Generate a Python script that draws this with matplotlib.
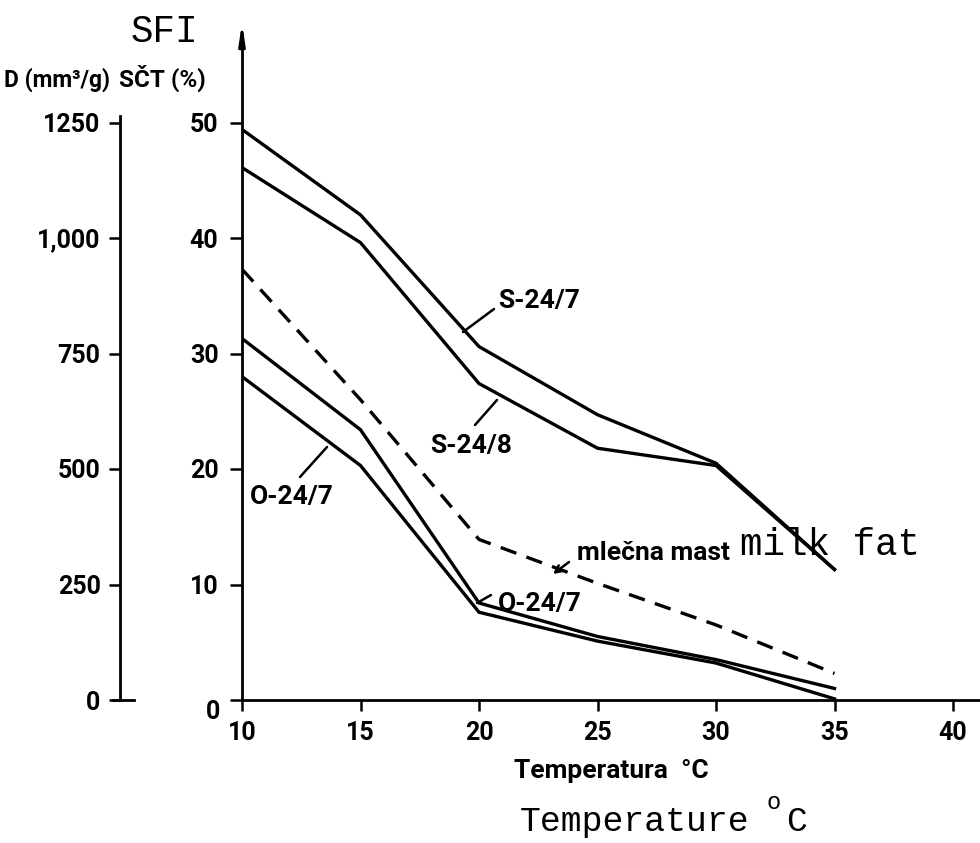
import matplotlib
matplotlib.use("Agg")
import matplotlib.pyplot as plt
from matplotlib.lines import Line2D

# ---- data ----
temps = [10, 15, 20, 25, 30, 35]
s_24_7 = [49.4, 42.0, 30.6, 24.7, 20.5, 11.3]
s_24_8 = [46.1, 39.6, 27.4, 21.8, 20.3, 11.3]
mlecna_mast = [37.3, 26.0, 13.9, 10.1, 6.5, 2.3]
o_24_7_a = [31.3, 23.4, 8.4, 5.5, 3.5, 1.0]
o_24_7_b = [28.0, 20.3, 7.6, 5.1, 3.2, 0.1]

x_ticks = [10, 15, 20, 25, 30, 35, 40]
sct_ticks = [0, 10, 20, 30, 40, 50]
d_ticks = [0, 250, 500, 750, 1000, 1250]
d_labels = ["0", "250", "500", "750", "1,000", "1250"]

W, H = 980, 843
fig = plt.figure(figsize=(W / 100, H / 100), dpi=100)
fig.patch.set_facecolor("white")

SANS = dict(family=["Roboto", "DejaVu Sans"], weight="bold")
MONO = dict(family=["Liberation Mono", "DejaVu Sans Mono"])


def P(x, y):
    return (x / W, 1 - y / H)


# main axes: x=10 at px 242, y=0 at px 700, 23.7 px per degree, 11.55 px per %
left_px, bottom_px, top_px = 242, 700, 20
ax = fig.add_axes([left_px / W, (H - bottom_px) / H, (W - left_px) / W, (bottom_px - top_px) / H])
ax.set_xlim(10, 10 + (W - left_px) / 23.7)
ymax = (bottom_px - top_px) / 11.55
ax.set_ylim(0, ymax)
ax.patch.set_alpha(0)
for s in ["top", "right"]:
    ax.spines[s].set_visible(False)
for s in ["left", "bottom"]:
    ax.spines[s].set_linewidth(2.0)
ax.spines["left"].set_bounds(0, ymax - 1.2)

lw = 2.4
ax.plot(temps, s_24_7, color="black", lw=lw, solid_joinstyle="miter")
ax.plot(temps, s_24_8, color="black", lw=lw, solid_joinstyle="miter")
ax.plot(temps, o_24_7_a, color="black", lw=lw, solid_joinstyle="miter")
ax.plot(temps, o_24_7_b, color="black", lw=lw, solid_joinstyle="miter")
ax.plot(temps, mlecna_mast, color="black", lw=lw, linestyle=(0, (5, 3.2)))

# axis arrow at top
ax.annotate("", xy=(10, ymax), xytext=(10, ymax - 2.5), xycoords="data",
            arrowprops=dict(arrowstyle="-|>,head_width=0.18,head_length=1.2", color="black", lw=2.0),
            annotation_clip=False)

ax.set_xticks(x_ticks)
ax.set_xticklabels([str(t) for t in x_ticks], fontsize=18, **SANS)
ax.tick_params(axis="x", direction="out", length=8, width=1.8, pad=7)
ax.set_yticks(sct_ticks)
ax.set_yticklabels([""] + [str(t) for t in sct_ticks[1:]], fontsize=18, **SANS)
ax.tick_params(axis="y", direction="out", length=9, width=1.8, pad=8)
fig.text(*P(213, 712), "0", fontsize=18, ha="center", va="center", **SANS)

# left D axis
ax2 = fig.add_axes([120 / W, (H - bottom_px) / H, 0.0001, (bottom_px - top_px) / H])
ax2.set_ylim(0, ymax * 25)
ax2.patch.set_alpha(0)
for s in ["top", "right", "bottom"]:
    ax2.spines[s].set_visible(False)
ax2.spines["left"].set_linewidth(2.0)
ax2.spines["left"].set_bounds(0, 1265)
ax2.set_xticks([])
ax2.set_yticks(d_ticks)
ax2.set_yticklabels(d_labels, fontsize=18, **SANS)
ax2.tick_params(axis="y", direction="out", length=8, width=1.8, pad=6)
fig.add_artist(Line2D([113 / W, 134 / W], [1 - 700 / H, 1 - 700 / H], color="black", lw=2.0))

# axis titles
fig.text(*P(131, 42), "SFI", fontsize=27, ha="left", va="baseline", **MONO)
fig.text(*P(4, 87), "D (mm³/g)", fontsize=16.5, ha="left", va="baseline", **SANS)
fig.text(*P(119, 87), "SČT (%)", fontsize=17.5, ha="left", va="baseline", **SANS)
fig.text(*P(514, 778), "Temperatura  °C", fontsize=19, ha="left", va="baseline", **SANS)
fig.text(*P(520, 831), "Temperature", fontsize=25, ha="left", va="baseline", **MONO)
fig.text(*P(766, 809), "o", fontsize=17, ha="left", va="baseline", **MONO)
fig.text(*P(786, 831), "C", fontsize=25, ha="left", va="baseline", **MONO)
fig.text(*P(740, 555), "milk fat", fontsize=27, ha="left", va="baseline", **MONO)


def D(x, y):
    return (10 + (x - left_px) / 23.7, (bottom_px - y) / 11.55)


lead = dict(arrowstyle="-", color="black", lw=1.8, shrinkA=0, shrinkB=0)
ax.annotate("", xy=D(463, 332), xytext=D(494, 309), arrowprops=lead)
ax.text(*D(498, 308), "S-24/7", fontsize=19, ha="left", va="baseline", **SANS)
ax.annotate("", xy=D(475, 425), xytext=D(497, 400), arrowprops=lead)
ax.text(*D(430, 453), "S-24/8", fontsize=19, ha="left", va="baseline", **SANS)
ax.annotate("", xy=D(300, 477), xytext=D(327, 447), arrowprops=lead)
ax.text(*D(250, 504), "O-24/7", fontsize=19, ha="left", va="baseline", **SANS)
ax.annotate("", xy=D(477, 603), xytext=D(491, 595), arrowprops=lead)
ax.text(*D(498, 611), "O-24/7", fontsize=19, ha="left", va="baseline", **SANS)
ax.annotate("", xy=D(553, 574), xytext=D(569, 562),
            arrowprops=dict(arrowstyle="->,head_width=0.25,head_length=0.5", color="black", lw=1.8,
                            shrinkA=0, shrinkB=0))
ax.text(*D(577, 560), "mlečna mast", fontsize=19, ha="left", va="baseline", **SANS)

fig.savefig("out.png", dpi=100, facecolor="white")
